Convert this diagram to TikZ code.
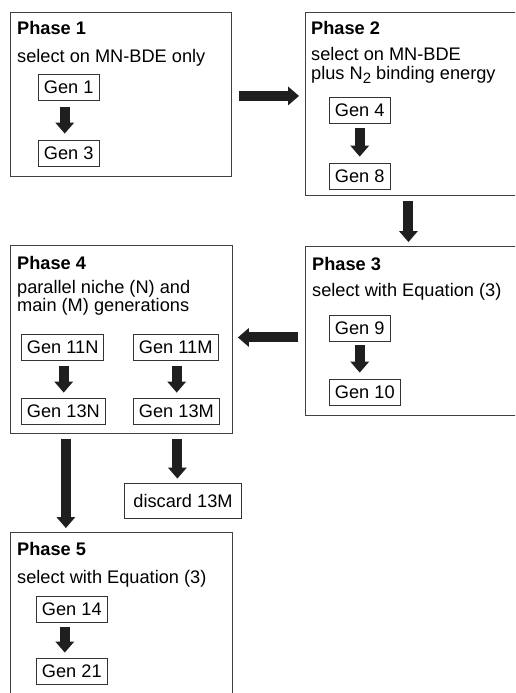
\documentclass[tikz,border=0pt]{standalone}
\usepackage{fontspec}
\setmainfont{Liberation Sans}
\usetikzlibrary{arrows.meta,calc}
\begin{document}
\begin{tikzpicture}[x=1pt,y=-1pt,
  phasebox/.style={draw=black!75, line width=0.9pt, fill=white, inner sep=0pt, anchor=north west},
  genbox/.style={draw=black!80, line width=0.9pt, inner xsep=5.5pt, inner ysep=0pt, minimum height=26pt, anchor=west, font=\fontsize{18.2}{20}\selectfont},
  titletext/.style={anchor=base west, inner sep=0pt, font=\fontsize{18.2}{20}\selectfont\bfseries},
  desctext/.style={anchor=base west, inner sep=0pt, font=\fontsize{18.2}{20}\selectfont},
  flow/.style={draw=black!88, line width=10pt, -{Triangle[width=19pt,length=11pt,line width=0pt]}}]
\useasboundingbox (0,0) rectangle (515,693);
\clip (0,0) rectangle (515,693);
\fill[white] (0,0) rectangle (515,693);
% phase boxes
\node[phasebox, minimum width=221pt, minimum height=164pt] (p1) at (10,12) {};
\node[phasebox, minimum width=217pt, minimum height=183pt] (p2) at (305,12) {};
\node[phasebox, minimum width=217pt, minimum height=169pt] (p3) at (305,246) {};
\node[phasebox, minimum width=222pt, minimum height=188pt] (p4) at (10,245) {};
\node[phasebox, minimum width=222pt, minimum height=170pt] (p5) at (10,532) {};
% texts
\node[titletext] (t1) at (17,35) {Phase 1};
\node[desctext] (d1) at (17,63) {select on MN-BDE only};
\node[titletext] (t2) at (311,35) {Phase 2};
\node[desctext] (d2a) at (311,60) {select on MN-BDE};
\node[desctext] (d2b) at (311,79) {plus N\raisebox{-5pt}{\fontsize{15}{15}\selectfont 2} binding energy};
\node[titletext] (t3) at (312,270) {Phase 3};
\node[desctext] (d3) at (312,296) {select with Equation (3)};
\node[titletext] (t4) at (17,269) {Phase 4};
\node[desctext] (d4a) at (17,293) {parallel niche (N) and};
\node[desctext] (d4b) at (17,311) {main (M) generations};
\node[titletext] (t5) at (17,555) {Phase 5};
\node[desctext] (d5) at (17,583) {select with Equation (3)};
% generation boxes
\node[genbox] (g1) at (38,87) {Gen 1};
\node[genbox] (g3) at (38,153) {Gen 3};
\node[genbox] (g4) at (329,110) {Gen 4};
\node[genbox] (g8) at (329,176) {Gen 8};
\node[genbox] (g9) at (329,328) {Gen 9};
\node[genbox] (g10) at (329,392) {Gen 10};
\node[genbox] (g11n) at (21,347) {Gen 11N};
\node[genbox] (g11m) at (133,347) {Gen 11M};
\node[genbox] (g13n) at (21,411) {Gen 13N};
\node[genbox] (g13m) at (133,411) {Gen 13M};
\node[genbox] (g14) at (36,609) {Gen 14};
\node[genbox] (g21) at (36,671) {Gen 21};
\node[genbox, inner xsep=9pt, minimum height=35pt] (disc) at (124,500.5) {discard 13M};
% arrows inside phases
\draw[flow] ($(g1.south)+(-4,7)$) -- ($(g3.north -| g1.south)+(-4,-6)$);
\draw[flow] ($(g4.south)+(0,5)$) -- ($(g8.north -| g4.south)+(0,-6)$);
\draw[flow] ($(g9.south)+(0,4)$) -- ($(g10.north -| g9.south)+(0,-6)$);
\draw[flow] ($(g11n.south)+(1,6)$) -- ($(g13n.north -| g11n.south)+(1,-5)$);
\draw[flow] ($(g11m.south)+(1,6)$) -- ($(g13m.north -| g11m.south)+(1,-5)$);
\draw[flow] ($(g14.south)+(-7,5)$) -- ($(g21.north -| g14.south)+(-7,-5)$);
% arrows between phases
\draw[flow] ($(p1.east)+(7,1.5)$) -- ($(p1.east -| p2.west)+(-6,1.5)$);
\draw[flow] ($(p2.south)+(-5.5,5)$) -- ($(p3.north)+(-5.5,-4)$);
\draw[flow] ($(p3.west |- p4.east)+(-7,-2)$) -- ($(p4.east)+(5,-2)$);
\draw[flow] ($(p4.south -| g13n)+(2.5,5)$) -- ($(p5.north -| g13n)+(2.5,-4)$);
\draw[flow] ($(p4.south -| g13m)+(1,5)$) -- ($(disc.north -| g13m)+(1,-4)$);
\end{tikzpicture}
\end{document}
